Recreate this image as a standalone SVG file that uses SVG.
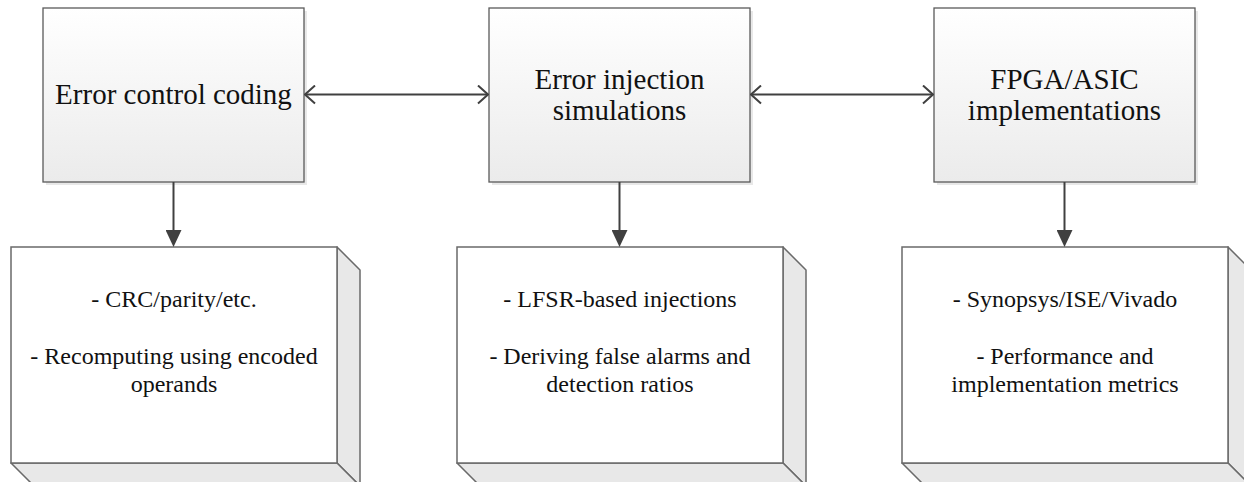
<svg xmlns="http://www.w3.org/2000/svg" width="1244" height="482" viewBox="0 0 1244 482">
<style>
.top{fill:url(#g);stroke:#5a5a5a;stroke-width:1.3}
.sh{fill:#d9d9d9;opacity:.6}
.face{fill:#fff;stroke:#6a6a6a;stroke-width:1.5}
.side{fill:#e8e8e8;stroke:#6a6a6a;stroke-width:1.5;stroke-linejoin:round}
text{font-family:'Liberation Serif',serif;fill:#111;text-anchor:middle}
.t1{font-size:29px}
.t2{font-size:24px}
.c{stroke:#404040;stroke-width:2;fill:none}
</style>
<defs>
<linearGradient id="g" x1="0" y1="0" x2="0" y2="1">
<stop offset="0" stop-color="#ffffff"/>
<stop offset="1" stop-color="#ebebeb"/>
</linearGradient>
<marker id="open" viewBox="0 0 12 20" refX="11" refY="10" markerWidth="12" markerHeight="20" markerUnits="userSpaceOnUse" orient="auto-start-reverse">
<path d="M1,1 L11,10 L1,19" fill="none" stroke="#404040" stroke-width="2"/>
</marker>
<marker id="fill" viewBox="0 0 16 17" refX="8" refY="0" markerWidth="16" markerHeight="17" markerUnits="userSpaceOnUse" orient="0">
<path d="M0,0 L16,0 L8,17 Z" fill="#404040"/>
</marker>
</defs>
<rect width="1244" height="482" fill="#fff"/>

<g id="n1">
<rect class="sh" x="46" y="11" width="261" height="174"/>
<rect class="top" x="43" y="8" width="261" height="174"/>
<text class="t1" x="173.5" y="104" font-family="Liberation Serif, serif">Error control coding</text>
</g>
<g id="n2">
<rect class="sh" x="492" y="11" width="261" height="174"/>
<rect class="top" x="489" y="8" width="261" height="174"/>
<text class="t1" x="619.5" y="89" font-family="Liberation Serif, serif">Error injection</text>
<text class="t1" x="619.5" y="120" font-family="Liberation Serif, serif">simulations</text>
</g>
<g id="n3">
<rect class="sh" x="937" y="11" width="261" height="174"/>
<rect class="top" x="934" y="8" width="261" height="174"/>
<text class="t1" x="1064.5" y="89" font-family="Liberation Serif, serif">FPGA/ASIC</text>
<text class="t1" x="1064.5" y="120" font-family="Liberation Serif, serif">implementations</text>
</g>

<g id="b1">
<path class="side" d="M337,247 L360,270 L360,486 L337,463 Z"/>
<path class="side" d="M11,463 L337,463 L360,486 L34,486 Z"/>
<rect class="face" x="11" y="247" width="326" height="216"/>
<text class="t2" x="174" y="307" font-family="Liberation Serif, serif">- CRC/parity/etc.</text>
<text class="t2" x="174" y="364" font-family="Liberation Serif, serif">- Recomputing using encoded</text>
<text class="t2" x="174" y="392" font-family="Liberation Serif, serif">operands</text>
</g>
<g id="b2">
<path class="side" d="M783,247 L806,270 L806,486 L783,463 Z"/>
<path class="side" d="M457,463 L783,463 L806,486 L480,486 Z"/>
<rect class="face" x="457" y="247" width="326" height="216"/>
<text class="t2" x="620" y="307" font-family="Liberation Serif, serif">- LFSR-based injections</text>
<text class="t2" x="620" y="364" font-family="Liberation Serif, serif">- Deriving false alarms and</text>
<text class="t2" x="620" y="392" font-family="Liberation Serif, serif">detection ratios</text>
</g>
<g id="b3">
<path class="side" d="M1228,247 L1251,270 L1251,486 L1228,463 Z"/>
<path class="side" d="M902,463 L1228,463 L1251,486 L925,486 Z"/>
<rect class="face" x="902" y="247" width="326" height="216"/>
<text class="t2" x="1065" y="307" font-family="Liberation Serif, serif">- Synopsys/ISE/Vivado</text>
<text class="t2" x="1065" y="364" font-family="Liberation Serif, serif">- Performance and</text>
<text class="t2" x="1065" y="392" font-family="Liberation Serif, serif">implementation metrics</text>
</g>

<g id="connectors">
<line class="c" x1="305" y1="94.5" x2="488" y2="94.5" marker-start="url(#open)" marker-end="url(#open)"/>
<line class="c" x1="751" y1="94.5" x2="933" y2="94.5" marker-start="url(#open)" marker-end="url(#open)"/>
<line class="c" x1="173.5" y1="182" x2="173.5" y2="230" marker-end="url(#fill)"/>
<line class="c" x1="619.5" y1="182" x2="619.5" y2="230" marker-end="url(#fill)"/>
<line class="c" x1="1064.5" y1="182" x2="1064.5" y2="230" marker-end="url(#fill)"/>
</g>
</svg>
